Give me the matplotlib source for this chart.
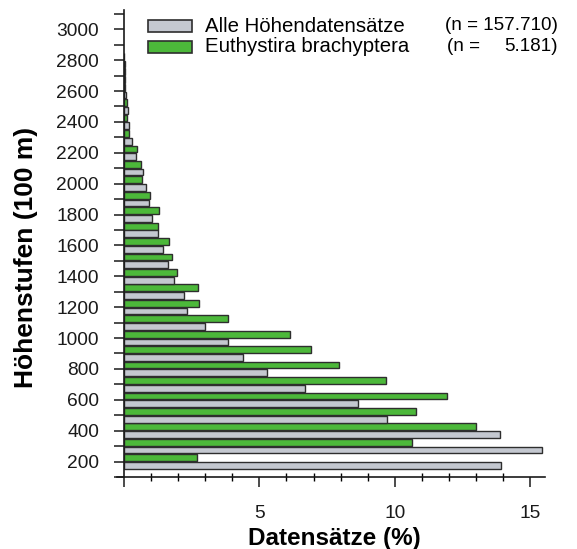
import matplotlib
matplotlib.use("Agg")
import matplotlib.pyplot as plt
from matplotlib.patches import Rectangle
from matplotlib.ticker import FixedLocator, FuncFormatter

# ---- data ----
elevations = [200, 300, 400, 500, 600, 700, 800, 900, 1000, 1100, 1200, 1300, 1400,
              1500, 1600, 1700, 1800, 1900, 2000, 2100, 2200, 2300, 2400, 2500, 2600,
              2700, 2800]
all_records = [13.94, 15.44, 13.90, 9.72, 8.65, 6.67, 5.30, 4.40, 3.83, 2.98, 2.31, 2.20,
               1.83, 1.61, 1.45, 1.24, 1.05, 0.93, 0.82, 0.69, 0.44, 0.28, 0.20, 0.15,
               0.08, 0.04, 0.02]
euthystira = [2.68, 10.65, 12.99, 10.77, 11.93, 9.67, 7.95, 6.89, 6.13, 3.83, 2.78, 2.75,
              1.94, 1.77, 1.67, 1.27, 1.28, 0.96, 0.66, 0.63, 0.47, 0.20, 0.12, 0.10,
              0.05, 0.02, 0.0]
series_names = ["Alle Höhendatensätze", "Euthystira brachyptera"]
series_n = ["157.710)", "5.181)"]
y_major = list(range(200, 3001, 200))
y_minor = list(range(100, 3101, 100))
x_major = [0, 5, 10, 15]
x_minor = list(range(0, 16))

GRAY = "#c4c8d0"
GREEN = "#4cb83a"
EDGE = "#2e2e2e"

plt.rcParams['font.family'] = ['Liberation Sans', 'DejaVu Sans']

W, H = 577, 549
fig = plt.figure(figsize=(W / 100, H / 100), dpi=100)
ax = fig.add_axes([124 / W, 1 - 477 / H, (545 - 124) / W, (477 - 10) / H])

bh = 44
off = 25
ax.barh([e + off for e in elevations], euthystira, height=bh, color=GREEN,
        edgecolor=EDGE, linewidth=1.0, zorder=2)
ax.barh([e - off for e in elevations], all_records, height=bh, color=GRAY,
        edgecolor=EDGE, linewidth=1.0, zorder=2)

ax.set_xlim(0, 15.55)
ax.set_ylim(100, 3125)
for s in ["top", "right"]:
    ax.spines[s].set_visible(False)
for s in ["left", "bottom"]:
    ax.spines[s].set_linewidth(1.2)
    ax.spines[s].set_color("#1a1a1a")
ax.spines["bottom"].set_bounds(-0.25, 15.55)
ax.spines["bottom"].set_clip_on(False)

ax.yaxis.set_major_locator(FixedLocator(y_major))
ax.yaxis.set_minor_locator(FixedLocator(y_minor))
ax.xaxis.set_major_locator(FixedLocator(x_major))
ax.xaxis.set_minor_locator(FixedLocator(x_minor))
ax.xaxis.set_major_formatter(FuncFormatter(lambda v, p: "" if v == 0 else f"{int(v)}"))

ax.tick_params(axis="y", which="both", direction="out", length=7, width=1.1,
               labelsize=13.8, pad=11, colors="#1a1a1a")
ax.tick_params(axis="x", which="major", direction="out", length=7, width=1.1,
               labelsize=13.8, pad=13, colors="#1a1a1a")
ax.tick_params(axis="x", which="minor", direction="inout", length=6, width=1.0)

ax.set_xlabel("Datensätze (%)", fontsize=17.5, fontweight="bold", labelpad=4)
fig.text(26 / W, 1 - 257 / H, "Höhenstufen (100 m)", rotation=90, fontsize=19,
         fontweight="bold", ha="center", va="center")

# legend (manual)
rows_y = [26, 47]
colors = [GRAY, GREEN]
for i, (yc, c, name, n) in enumerate(zip(rows_y, colors, series_names, series_n)):
    fig.add_artist(Rectangle((148 / W, 1 - (yc + 6) / H), 44 / W, 12 / H,
                             transform=fig.transFigure, facecolor=c,
                             edgecolor=EDGE, linewidth=1.2))
    fig.text(205 / W, 1 - yc / H, name, fontsize=14.7, ha="left", va="center")
    if i == 0:
        fig.text(558 / W, 1 - yc / H, "(n = " + n, fontsize=13.6, ha="right", va="center")
    else:
        fig.text(447 / W, 1 - yc / H, "(n =", fontsize=13.6, ha="left", va="center")
        fig.text(558 / W, 1 - yc / H, n, fontsize=13.6, ha="right", va="center")

fig.savefig("out.png", dpi=100, facecolor="white")
